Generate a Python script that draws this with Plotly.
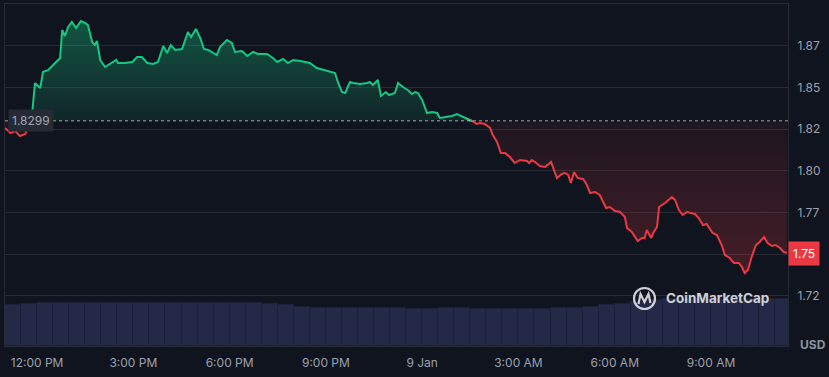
import pandas as pd
import plotly.graph_objects as go

# ---------------- data ----------------
ref_price = 1.8299
start_time = "2025-01-08 12:00"

# minutes after start_time
price_minutes = [
    -60, -50, -41, -32, -22, -15, -9, -4, 6, 11, 21, 30, 39, 43, 47, 52, 58, 65, 73, 82,
    90, 95, 103, 108, 112, 118, 127, 136, 148, 151, 164, 178, 187, 196, 206, 217, 226, 236, 243, 250,
    258, 271, 282, 288, 297, 305, 312, 320, 336, 342, 355, 364, 370, 383, 393, 404, 413, 430, 441, 449,
    460, 469, 479, 492, 510, 523, 535, 548, 557, 563, 570, 576, 585, 591, 604, 617, 622, 628, 637, 643,
    652, 658, 669, 675, 684, 693, 701, 707, 712, 720, 729, 738, 748, 753, 763, 776, 785, 800, 813, 822,
    828, 837, 847, 852, 860, 867, 875, 884, 893, 903, 916, 920, 925, 931, 940, 950, 961, 972, 981, 987,
    993, 998, 1004, 1011, 1021, 1028, 1034, 1043, 1052, 1064, 1071, 1080, 1090, 1099, 1103, 1112, 1123, 1131, 1136, 1140,
    1148, 1153, 1159, 1163, 1174, 1187, 1193, 1200, 1207, 1215, 1221, 1230, 1237, 1245, 1252, 1263, 1271, 1280, 1286, 1295,
    1303, 1312, 1318, 1323, 1329, 1336, 1344, 1351, 1359, 1366, 1374, 1381, 1389, 1396, 1402,
]
prices = [
    1.8256, 1.8226, 1.8238, 1.8208, 1.8220, 1.8274, 1.8352, 1.8526, 1.8496, 1.8592, 1.8604, 1.8634, 1.8664, 1.8676, 1.8844, 1.8808, 1.8862, 1.8892, 1.8856, 1.8898,
    1.8886, 1.8874, 1.8772, 1.8754, 1.8778, 1.8664, 1.8622, 1.8640, 1.8664, 1.8646, 1.8646, 1.8652, 1.8682, 1.8682, 1.8646, 1.8640, 1.8652, 1.8748, 1.8706, 1.8754,
    1.8724, 1.8730, 1.8832, 1.8802, 1.8850, 1.8796, 1.8730, 1.8724, 1.8694, 1.8742, 1.8784, 1.8766, 1.8712, 1.8718, 1.8688, 1.8712, 1.8700, 1.8700, 1.8676, 1.8652,
    1.8670, 1.8646, 1.8664, 1.8658, 1.8646, 1.8616, 1.8604, 1.8592, 1.8586, 1.8526, 1.8472, 1.8466, 1.8532, 1.8526, 1.8520, 1.8526, 1.8532, 1.8514, 1.8544, 1.8448,
    1.8472, 1.8454, 1.8466, 1.8526, 1.8502, 1.8484, 1.8460, 1.8472, 1.8466, 1.8424, 1.8346, 1.8352, 1.8346, 1.8316, 1.8322, 1.8328, 1.8340, 1.8316, 1.8298, 1.8280,
    1.8286, 1.8280, 1.8256, 1.8214, 1.8172, 1.8106, 1.8106, 1.8082, 1.8046, 1.8064, 1.8058, 1.8046, 1.8064, 1.8052, 1.8028, 1.8022, 1.8052, 1.7956, 1.7980, 1.7986,
    1.7974, 1.7926, 1.7992, 1.7956, 1.7950, 1.7914, 1.7866, 1.7872, 1.7854, 1.7776, 1.7782, 1.7758, 1.7752, 1.7722, 1.7656, 1.7632, 1.7578, 1.7596, 1.7596, 1.7644,
    1.7596, 1.7632, 1.7662, 1.7782, 1.7806, 1.7842, 1.7824, 1.7764, 1.7734, 1.7752, 1.7746, 1.7740, 1.7716, 1.7674, 1.7680, 1.7626, 1.7614, 1.7554, 1.7494, 1.7476,
    1.7446, 1.7446, 1.7422, 1.7386, 1.7404, 1.7482, 1.7554, 1.7572, 1.7602, 1.7566, 1.7548, 1.7554, 1.7536, 1.7512, 1.7506,
]

# 30-minute volume bars (arbitrary units, millions)
volume_minutes = [-45 + 30 * i for i in range(49)]
volumes = [
    415, 420, 435, 435, 435, 435, 435, 435, 430, 430, 430, 430, 430, 430, 430, 430, 425, 415, 395, 385,
    380, 380, 380, 380, 380, 375, 375, 385, 380, 375, 375, 375, 375, 375, 380, 385, 395, 410, 425, 440,
    460, 470, 475, 475, 475, 475, 475, 475, 475,
]

y_tick_vals = [1.725, 1.75, 1.775, 1.8, 1.825, 1.85, 1.875]
y_tick_text = ["1.72", "1.75", "1.77", "1.80", "1.82", "1.85", "1.87"]
x_tick_minutes = [0, 180, 360, 540, 720, 900, 1080, 1260]
x_tick_text = ["12:00 PM", "3:00 PM", "6:00 PM", "9:00 PM", "9 Jan", "3:00 AM", "6:00 AM", "9:00 AM"]

# ---------------- styling ----------------
BG = "#10141e"
GRID = "#262a35"
GREEN = "#16c784"
RED = "#ea3943"
TICK = "#9ba1ae"
FONT = "Inter"

W, H = 829, 377
ML, MR, MT, MB = 5, 41, 4, 31
y_range = [1.6948, 1.9]
x_range_min = [-60, 1404]

base = pd.Timestamp(start_time)
t = base + pd.to_timedelta(price_minutes, unit="min")
tv = base + pd.to_timedelta(volume_minutes, unit="min")
x_ticks = base + pd.to_timedelta(x_tick_minutes, unit="min")
x_range = list(base + pd.to_timedelta(x_range_min, unit="min"))

# the last-price badge sits on top of the matching axis label, hiding it
last_label = f"{prices[-1]:.2f}"
y_tick_shown = ["" if txt == last_label else txt for txt in y_tick_text]

n = len(prices)
above = [p >= ref_price for p in prices]
green_line = [prices[i] if (above[i] or (i > 0 and above[i - 1]) or (i < n - 1 and above[i + 1])) else None for i in range(n)]
red_line = [prices[i] if ((not above[i]) or (i > 0 and not above[i - 1]) or (i < n - 1 and not above[i + 1])) else None for i in range(n)]
green_fill = [max(p, ref_price) for p in prices]
red_fill = [min(p, ref_price) for p in prices]
baseline = [ref_price] * n

fig = go.Figure()

# volume
fig.add_trace(go.Bar(
    x=tv, y=volumes, yaxis="y2", marker=dict(color="#232946", line=dict(color="#1c2139", width=1)),
    width=30 * 60 * 1000, hoverinfo="skip", showlegend=False,
))

# fills
fig.add_trace(go.Scatter(x=t, y=baseline, mode="lines", line=dict(width=0), hoverinfo="skip", showlegend=False))
fig.add_trace(go.Scatter(
    x=t, y=green_fill, mode="lines", line=dict(width=0), fill="tonexty",
    fillgradient=dict(type="vertical", colorscale=[[0, "rgba(22,199,132,0.10)"], [1, "rgba(22,199,132,0.36)"]],
                      start=ref_price, stop=max(prices)),
    hoverinfo="skip", showlegend=False,
))
fig.add_trace(go.Scatter(x=t, y=baseline, mode="lines", line=dict(width=0), hoverinfo="skip", showlegend=False))
fig.add_trace(go.Scatter(
    x=t, y=red_fill, mode="lines", line=dict(width=0), fill="tonexty",
    fillgradient=dict(type="vertical", colorscale=[[0, "rgba(234,57,67,0.24)"], [1, "rgba(234,57,67,0.06)"]],
                      start=min(prices), stop=ref_price),
    hoverinfo="skip", showlegend=False,
))

# lines
fig.add_trace(go.Scatter(x=t, y=red_line, mode="lines", line=dict(color=RED, width=2), connectgaps=False, showlegend=False))
fig.add_trace(go.Scatter(x=t, y=green_line, mode="lines", line=dict(color=GREEN, width=2), connectgaps=False, showlegend=False))

# reference dotted line
fig.add_shape(type="line", xref="paper", x0=0, x1=1, yref="y", y0=ref_price, y1=ref_price,
              line=dict(color="rgba(210,214,222,0.75)", width=1, dash="dot"))

pw = W - ML - MR
ph = H - MT - MB
px = 1.0 / pw  # one pixel in paper x

# reference price label
fig.add_annotation(xref="paper", x=3 * px, xanchor="left", yref="y", y=ref_price, yanchor="middle",
                   text=f"{ref_price:.4f}", showarrow=False, bgcolor="#262a34", borderpad=3,
                   font=dict(family=FONT, size=12, color="#a3a8b5"))

# last price label
fig.add_annotation(xref="paper", x=1, xanchor="left", yref="y", y=prices[-1], yanchor="middle",
                   text=last_label, showarrow=False, bgcolor=RED, borderpad=4,
                   font=dict(family=FONT, size=12, color="#ffffff"))

# USD label
fig.add_annotation(xref="paper", x=(813 - ML) * px, xanchor="center", yref="paper", y=(ph - (344 - MT)) / ph,
                   yanchor="middle", text="<b>USD</b>", showarrow=False,
                   font=dict(family=FONT, size=12, color="#8d929e"))

# watermark
WM = "rgba(232,234,240,0.88)"
fig.add_annotation(xref="paper", x=(664 - ML) * px, xanchor="left", yref="paper", y=(ph - (298 - MT)) / ph,
                   yanchor="middle", text="<b>CoinMarketCap</b>", showarrow=False,
                   font=dict(family=FONT, size=13.5, color=WM))
def pxp(X, Y):
    return (X - ML) / pw, (ph - (Y - MT)) / ph
cx0, cy0 = pxp(634, 309)
cx1, cy1 = pxp(655, 288)
fig.add_shape(type="circle", xref="paper", yref="paper", x0=cx0, y0=cy0, x1=cx1, y1=cy1,
              line=dict(color=WM, width=2.2))
m_pts = [pxp(638.5, 304), pxp(640.5, 294), pxp(644.5, 302), pxp(648.5, 294), pxp(650.5, 303)]
path = "M " + " L ".join(f"{a:.5f},{b:.5f}" for a, b in m_pts)
fig.add_shape(type="path", xref="paper", yref="paper", path=path, line=dict(color=WM, width=2.2))

fig.update_layout(
    width=W, height=H,
    margin=dict(l=ML, r=MR, t=MT, b=MB),
    paper_bgcolor=BG, plot_bgcolor=BG,
    showlegend=False, bargap=0,
    xaxis=dict(type="date", range=x_range, tickvals=list(x_ticks), ticktext=x_tick_text,
               showgrid=False, zeroline=False, showline=True, mirror=True, linecolor=GRID, linewidth=1,
               ticks="", ticklabelstandoff=6, tickfont=dict(family=FONT, size=12, color=TICK)),
    yaxis=dict(range=y_range, side="right", tickvals=y_tick_vals, ticktext=y_tick_shown,
               showgrid=True, gridcolor=GRID, gridwidth=1, zeroline=False,
               showline=True, mirror=True, linecolor=GRID, linewidth=1,
               ticks="", ticklabelstandoff=6, tickfont=dict(family=FONT, size=12, color=TICK)),
    yaxis2=dict(range=[0, 3420], overlaying="y", visible=False),
)

fig.write_html(
    "out.html",
    config={"displayModeBar": False},
    post_script="document.body.style.margin='0';document.body.style.background='" + BG + "';",
)
